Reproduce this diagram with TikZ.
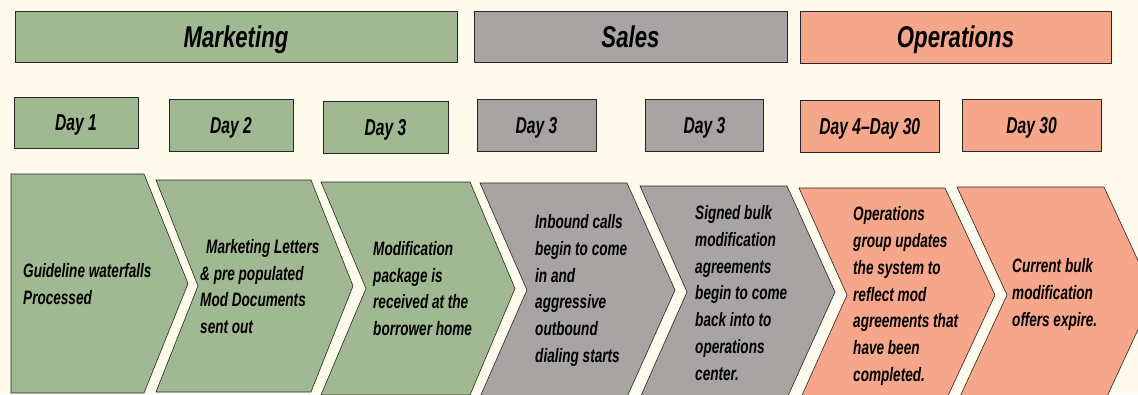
\documentclass[tikz,border=0pt]{standalone}
\usepackage{fontspec}
\newfontfamily\narrowfont{Liberation Sans}[FakeStretch=0.74,Ligatures=TeX]
\newfontfamily\bodyfont{Liberation Sans}[FakeStretch=0.70,Ligatures=TeX]
\newfontfamily\dayfont{Liberation Sans}[FakeStretch=0.68,Ligatures=TeX]
\definecolor{bgc}{HTML}{FEFAEC}
\definecolor{mktc}{HTML}{A0B992}
\definecolor{salc}{HTML}{A8A4A4}
\definecolor{opsc}{HTML}{F6A68A}
\begin{document}
\begin{tikzpicture}[x=1pt,y=-1pt,
  boxline/.style={draw=black!85, line width=0.7pt},
  headbox/.style={boxline, inner sep=0pt, text depth=0pt, font=\narrowfont\bfseries\itshape\fontsize{30}{34}\selectfont},
  daybox/.style={boxline, inner sep=0pt, text depth=0pt, font=\dayfont\bfseries\itshape\fontsize{23}{26}\selectfont},
  chev/.style={draw=black!85, line width=0.6pt},
  body/.style={font=\bodyfont\bfseries\itshape\fontsize{19.4}{26.8}\selectfont, align=left, anchor=west, inner sep=0pt}]
\useasboundingbox (0,0) rectangle (1138,394);
\fill[bgc] (0,0) rectangle (1138,394);
\clip (0,0) rectangle (1138,394);

% headers
\node[headbox, fill=mktc, minimum width=442pt, minimum height=51pt] (hmkt) at (236,36.5) {Marketing};
\node[headbox, fill=salc, minimum width=313pt, minimum height=51pt] (hsal) at (630.5,36.5) {Sales};
\node[headbox, fill=opsc, minimum width=311pt, minimum height=52pt] (hops) at (955.5,37) {Operations};

% day boxes
\node[daybox, fill=mktc, minimum width=124pt, minimum height=51pt] (d1) at (76,122.5) {Day 1};
\node[daybox, fill=mktc, minimum width=124pt, minimum height=52pt] (d2) at (231,125) {Day 2};
\node[daybox, fill=mktc, minimum width=125pt, minimum height=52pt] (d3) at (385.5,127) {Day 3};
\node[daybox, fill=salc, minimum width=119pt, minimum height=52pt] (s1) at (536.5,125) {Day 3};
\node[daybox, fill=salc, minimum width=118pt, minimum height=52pt] (s2) at (704.5,125) {Day 3};
\node[daybox, fill=opsc, minimum width=139.5pt, minimum height=52pt] (o1) at (869.75,126) {Day 4–Day 30};
\node[daybox, fill=opsc, minimum width=139pt, minimum height=52pt] (o2) at (1031.5,125) {Day 30};

% chevrons
\draw[chev, fill=mktc] (11,174) -- (144,174) -- (188,283.5) -- (144,393) -- (11,393) -- cycle;
\draw[chev, fill=mktc] (156,180) -- (311,180) -- (353,286) -- (311,392) -- (156,392) -- (198,286) -- cycle;
\draw[chev, fill=mktc] (321,182) -- (470,182) -- (515,288.5) -- (470,395) -- (321,395) -- (366,288.5) -- cycle;
\draw[chev, fill=salc] (480,183) -- (627,183) -- (675,290) -- (627,397) -- (480,397) -- (527,290) -- cycle;
\draw[chev, fill=salc] (640,186) -- (787,186) -- (835,292) -- (787,398) -- (640,398) -- (687,292) -- cycle;
\draw[chev, fill=opsc] (799,188) -- (945,188) -- (995,295) -- (945,402) -- (799,402) -- (847,295) -- cycle;
\draw[chev, fill=opsc] (957,187) -- (1104,187) -- (1154,295) -- (1104,403) -- (957,403) -- (1007,295) -- cycle;

% texts
\node[body] (t1) at (23,284) {Guideline waterfalls\\Processed};
\node[body] (t2) at (200,286.5) {\hspace*{6pt}Marketing Letters\\\& pre populated\\Mod Documents\\sent out};
\node[body] (t3) at (373,288.5) {Modification\\package is\\received at the\\borrower home};
\node[body] (t4) at (535,290.5) {Inbound calls\\begin to come\\in and\\aggressive\\outbound\\dialing starts};
\node[body] (t5) at (695,293) {Signed bulk\\modification\\agreements\\begin to come\\back into to\\operations\\center.};
\node[body] (t6) at (853,296) {Operations\\group updates\\the system to\\reflect mod\\agreements that\\have been\\completed.};
\node[body] (t7) at (1012,294.5) {Current bulk\\modification\\offers expire.};
\end{tikzpicture}
\end{document}
